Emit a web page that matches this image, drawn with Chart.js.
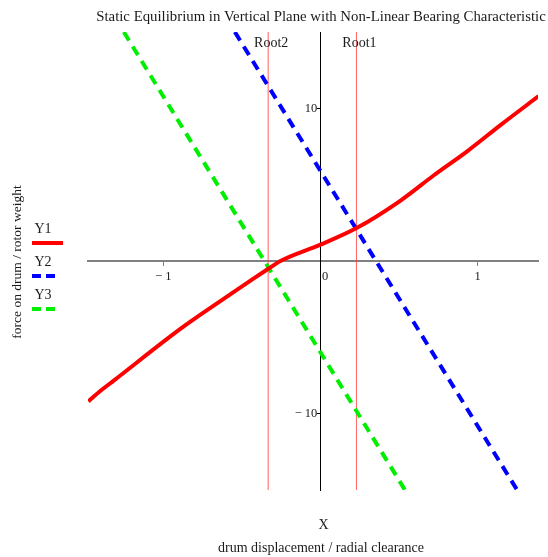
<!DOCTYPE html>
<html>
<head>
<meta charset="utf-8">
<script src="https://cdn.jsdelivr.net/npm/chart.js@4/dist/chart.umd.min.js"></script>
<style>
  html, body { margin: 0; padding: 0; background: #fff; }
  #wrap { width: 548px; height: 557px; }
</style>
</head>
<body>
<div id="wrap"><canvas id="chart"></canvas></div>
<script>
// Y1: bearing characteristic
const y1X = [-1.478, -1.40, -1.318, -0.892, -0.682, -0.427, -0.332, -0.255, 0, 0.236, 0.51, 0.72, 0.936, 1.146, 1.389];
const y1Y = [-9.2, -8.5, -7.85, -4.45, -2.94, -1.16, -0.51, 0, 1.07, 2.19, 3.96, 5.6, 7.2, 8.9, 10.8];
// Y2 / Y3: straight lines, end points only
const y2X = [-0.545, 1.252];
const y2Y = [15, -15];
const y3X = [-1.252, 0.538];
const y3Y = [15, -15];
// roots (vertical markers)
const rootNames = ["Root1", "Root2"];
const rootX = [0.229, -0.333];
// axes
const xTickValues = [-1, 0, 1];
const yTickValues = [-10, 10];
const xMin = -1.48, xMax = 1.385;
const yMin = -15, yMax = 15;

const FONT = "'Liberation Serif', 'DejaVu Serif', serif";

function toPoints(xs, ys) {
  return xs.map((x, i) => ({ x: x, y: ys[i] }));
}

function xLabel(v) {
  if (v === 0) return "   0";
  return v < 0 ? "\u2212 " + Math.abs(v) : String(v);
}

// y labels are right aligned on the axis line, the trailing space keeps them off it
function yLabel(v) {
  return (v < 0 ? "\u2212 " + Math.abs(v) : String(v)) + " ";
}

const datasets = [
  {
    label: "Y1",
    data: toPoints(y1X, y1Y),
    borderColor: "#ff0000",
    borderWidth: 4,
    cubicInterpolationMode: "monotone",
  },
  {
    label: "Y2",
    data: toPoints(y2X, y2Y),
    borderColor: "#0000ff",
    borderWidth: 4,
    borderDash: [10, 7],
  },
  {
    label: "Y3",
    data: toPoints(y3X, y3Y),
    borderColor: "#00ee00",
    borderWidth: 4,
    borderDash: [10, 7],
  },
];

// root markers run the full height of the plot
rootX.forEach((rx, i) => {
  datasets.push({
    label: rootNames[i],
    isRoot: true,
    data: [{ x: rx, y: yMin }, { x: rx, y: yMax }],
    borderColor: "rgba(255,60,60,0.8)",
    borderWidth: 1,
  });
});

// title, legend, axis titles and root labels
const textPlugin = {
  id: "textPlugin",
  afterDraw(chart) {
    const ctx = chart.ctx;
    const area = chart.chartArea;
    const xs = chart.scales.x;
    ctx.save();
    ctx.fillStyle = "#1a1a1a";
    ctx.textAlign = "center";
    ctx.textBaseline = "middle";

    ctx.font = "14.8px " + FONT;
    ctx.fillText("Static Equilibrium in Vertical Plane with Non-Linear Bearing Characteristic", 321, 17);

    // root labels
    ctx.font = "14px " + FONT;
    chart.data.datasets.forEach((ds) => {
      if (!ds.isRoot) return;
      const px = xs.getPixelForValue(ds.data[0].x);
      ctx.fillText(ds.label, px + 3, area.top + 11);
    });

    // legend on the left
    let ly = 229;
    chart.data.datasets.forEach((ds) => {
      if (ds.isRoot) return;
      ctx.fillStyle = "#1a1a1a";
      ctx.fillText(ds.label, 43, ly);
      ctx.beginPath();
      ctx.strokeStyle = ds.borderColor;
      ctx.lineWidth = 4;
      ctx.setLineDash(ds.borderDash ? [9, 5] : []);
      ctx.moveTo(32, ly + 14);
      ctx.lineTo(ds.borderDash ? 57 : 63, ly + 14);
      ctx.stroke();
      ly += 33;
    });
    ctx.setLineDash([]);

    // axis titles
    ctx.fillStyle = "#1a1a1a";
    ctx.font = "14px " + FONT;
    ctx.fillText("X", xs.getPixelForValue(0) + 3, 525);
    ctx.fillText("drum displacement / radial clearance", 321, 548);
    ctx.translate(17, 262);
    ctx.rotate(-Math.PI / 2);
    ctx.font = "13.5px " + FONT;
    ctx.fillText("force on drum / rotor weight", 0, 0);
    ctx.restore();
  },
};

new Chart(document.getElementById("chart"), {
  type: "scatter",
  data: { datasets: datasets },
  plugins: [textPlugin],
  options: {
    responsive: true,
    maintainAspectRatio: false,
    animation: false,
    showLine: true,
    elements: { point: { radius: 0, hoverRadius: 0 } },
    layout: { padding: { left: 88, right: 10, top: 32, bottom: 67 } },
    plugins: {
      legend: { display: false },
      tooltip: { enabled: false },
      title: { display: false },
    },
    scales: {
      x: {
        type: "linear",
        min: xMin,
        max: xMax,
        position: { y: 0 },
        afterBuildTicks: (scale) => {
          scale.ticks = xTickValues.map((v) => ({ value: v }));
        },
        grid: { drawOnChartArea: false, color: "#808080", tickLength: 4, tickWidth: 1 },
        border: { color: "#808080", width: 2 },
        ticks: {
          color: "#1a1a1a",
          padding: 4,
          font: { family: FONT, size: 12.5 },
          maxRotation: 0,
          callback: xLabel,
        },
      },
      y: {
        type: "linear",
        min: yMin,
        max: yMax,
        position: { x: 0 },
        afterBuildTicks: (scale) => {
          scale.ticks = yTickValues.map((v) => ({ value: v }));
        },
        grid: { drawOnChartArea: false, color: "#000", tickLength: 3, tickWidth: 1 },
        border: { color: "#000", width: 1 },
        ticks: {
          color: "#1a1a1a",
          padding: 0,
          font: { family: FONT, size: 12.5 },
          callback: yLabel,
        },
      },
    },
  },
});
</script>
</body>
</html>
